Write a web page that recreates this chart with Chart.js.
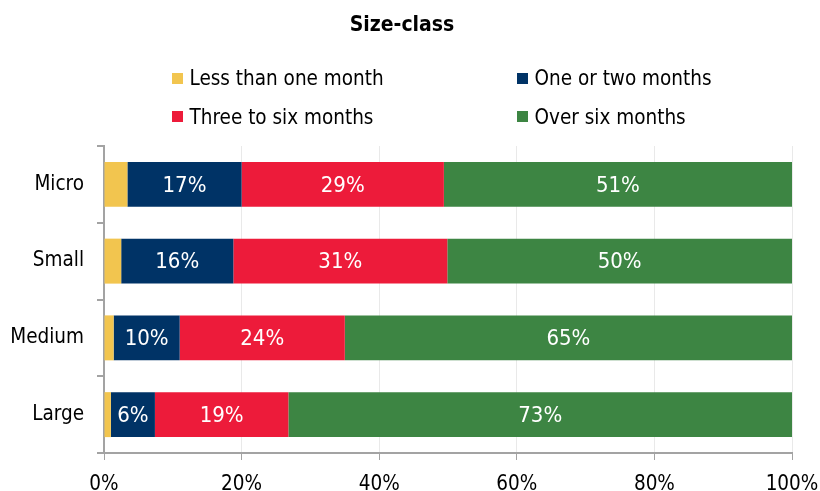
<!DOCTYPE html>
<html>
<head>
<meta charset="utf-8">
<script src="https://cdn.jsdelivr.net/npm/chart.js@4"></script>
<style>
  body { margin:0; background:#fff; }
  #wrap { position:relative; width:820px; height:491px; font-family:"DejaVu Sans Condensed","DejaVu Sans",sans-serif; color:#000; }
  #chart { position:absolute; left:0; top:0; }
  .title { position:absolute; left:0; width:804px; top:12px; text-align:center; font-weight:bold; font-size:21px; line-height:25px; }
  .item { position:absolute; font-size:20.5px; line-height:24px; white-space:nowrap; }
  .box { position:absolute; width:11px; height:11px; }
</style>
</head>
<body>
<div id="wrap">
  <canvas id="chart" width="820" height="491"></canvas>
  <div class="title">Size-class</div>
  <div id="legend"></div>
</div>
<script>
const categories = ["Micro", "Small", "Medium", "Large"]
const seriesNames = ["Less than one month", "One or two months", "Three to six months", "Over six months"]
const seriesColors = ["#F2C54F", "#003366", "#ED1B3A", "#3D8543"]

// shares (%)
const lessThanOneMonth = [3.4, 2.5, 1.4, 1.0]
const oneOrTwoMonths = [16.6, 16.3, 9.6, 6.4]
const threeToSixMonths = [29.4, 31.1, 24.0, 19.4]
const overSixMonths = [50.6, 50.1, 65.0, 73.2]

const xTicks = [0, 20, 40, 60, 80, 100]

const seriesValues = [lessThanOneMonth, oneOrTwoMonths, threeToSixMonths, overSixMonths]
const FONT = "'DejaVu Sans Condensed', 'DejaVu Sans', sans-serif"

// legend, two columns
const legendSpots = [[172, 66], [517, 66], [172, 104.5], [517, 104.5]]
const legend = document.getElementById("legend")
seriesNames.forEach((name, i) => {
    const [x, y] = legendSpots[i]
    const box = document.createElement("div")
    box.className = "box"
    box.style.left = x + "px"
    box.style.top = (y + 6.5) + "px"
    box.style.background = seriesColors[i]
    legend.appendChild(box)
    const txt = document.createElement("div")
    txt.className = "item"
    txt.style.left = (x + 17.5) + "px"
    txt.style.top = y + "px"
    txt.textContent = name
    legend.appendChild(txt)
})

const barLabels = {
    id: "barLabels",
    afterDatasetsDraw(chart) {
        const ctx = chart.ctx
        ctx.save()
        ctx.font = "22px " + FONT
        ctx.fillStyle = "#fff"
        ctx.textAlign = "center"
        ctx.textBaseline = "middle"
        chart.data.datasets.forEach((ds, di) => {
            if (di == 0) return
            chart.getDatasetMeta(di).data.forEach((bar, i) => {
                const p = bar.getCenterPoint()
                ctx.fillText(Math.round(ds.data[i]) + "%", p.x, p.y + 1.5)
            })
        })
        ctx.restore()
    }
}

new Chart(document.getElementById("chart"), {
    type: "bar",
    data: {
        labels: categories,
        datasets: seriesNames.map((name, i) => ({
            label: name,
            data: seriesValues[i],
            backgroundColor: seriesColors[i],
            borderWidth: 0,
            barPercentage: 0.586,
            categoryPercentage: 1,
        }))
    },
    options: {
        indexAxis: "y",
        responsive: false,
        animation: false,
        layout: { padding: { top: 146, right: 28, left: 0, bottom: 0 } },
        plugins: {
            legend: { display: false },
            title: { display: false },
            tooltip: { enabled: false },
        },
        scales: {
            x: {
                stacked: true,
                min: 0,
                max: 100,
                afterBuildTicks: (scale) => { scale.ticks = xTicks.map(v => ({ value: v })) },
                afterFit: (scale) => {
                    scale.height = 38
                    scale.paddingLeft = 0
                    scale.paddingRight = 0
                },
                ticks: {
                    callback: (v) => v + "%",
                    color: "#000",
                    font: { family: FONT, size: 20.5 },
                    padding: 12,
                    maxRotation: 0,
                },
                grid: { color: "#e9e9e9", lineWidth: 1, tickLength: 7, tickColor: "#a3a3a3" },
                border: { color: "#a3a3a3", width: 2 },
            },
            y: {
                stacked: true,
                offset: true,
                afterFit: (scale) => { scale.width = 104 },
                ticks: {
                    color: "#000",
                    font: { family: FONT, size: 20.5 },
                    padding: 13,
                },
                grid: { offset: true, drawOnChartArea: false, tickLength: 7, color: "#a3a3a3", lineWidth: 2 },
                border: { color: "#a3a3a3", width: 2 },
            }
        }
    },
    plugins: [barLabels]
})
</script>
</body>
</html>
